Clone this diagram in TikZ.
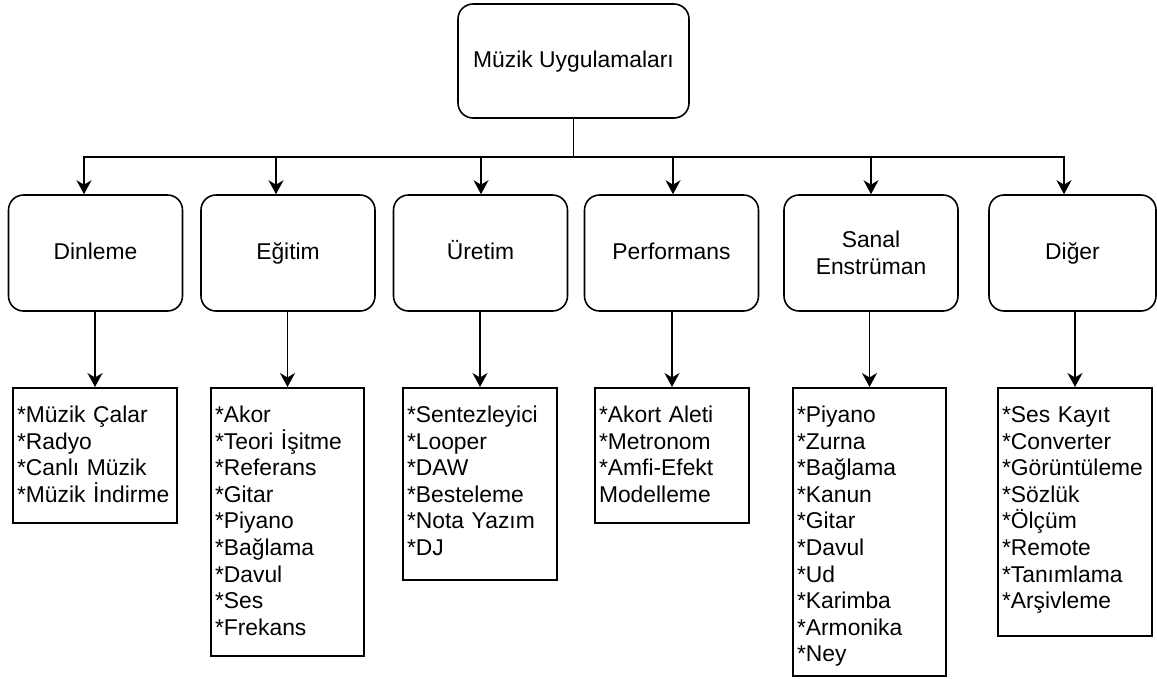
\documentclass[tikz,border=0pt]{standalone}
\usepackage{fontspec}
\setmainfont{Liberation Sans}
\usetikzlibrary{arrows.meta}

\begin{document}
\begin{tikzpicture}[
    font=\fontsize{13}{15.1}\selectfont,
    line width=0.9pt,
    >={Stealth[length=0.28cm,width=0.3cm,inset=0.09cm]},
    cat/.style={draw, rounded corners=0.3cm, minimum width=3.48cm,
      minimum height=2.32cm, align=center, inner sep=0pt},
    oneline/.style={text height=0.9em, text depth=0.18em},
    leaf/.style={draw, anchor=north, align=left, inner xsep=0.08cm,
      inner ysep=0pt, text height=0.7cm, text width=2.92cm}
  ]
  \useasboundingbox (0,0) rectangle (23.14,-13.56);

  \node[cat, oneline, minimum width=4.62cm, minimum height=2.28cm] (app) at (11.47,-1.22) {Müzik Uygulamaları};

  % categories
  \node[cat, oneline] (din) at (1.91,-5.06) {Dinleme};
  \node[cat, oneline] (egt) at (5.76,-5.06) {Eğitim};
  \node[cat, oneline] (urt) at (9.61,-5.06) {Üretim};
  \node[cat, oneline] (prf) at (13.43,-5.06) {Performans};
  \node[cat] (snl) at (17.42,-5.06) {Sanal\\Enstrüman};
  \node[cat, oneline, minimum width=3.34cm] (dgr) at (21.45,-5.06) {Diğer};

  % lists under each category ({} keeps the * from being read as \\*)
  \node[leaf, text width=3.12cm, text depth=2cm] (ldin) at (1.90,-7.74)
    {*Müzik Çalar\\{}*Radyo\\{}*Canlı Müzik\\{}*Müzik İndirme};
  \node[leaf, text width=2.90cm, text depth=4.66cm] (legt) at (5.75,-7.74)
    {*Akor\\{}*Teori İşitme\\{}*Referans\\{}*Gitar\\{}*Piyano\\{}*Bağlama\\{}*Davul\\{}*Ses\\{}*Frekans};
  \node[leaf, text depth=3.14cm] (lurt) at (9.60,-7.74)
    {*Sentezleyici\\{}*Looper\\{}*DAW\\{}*Besteleme\\{}*Nota Yazım\\{}*DJ};
  \node[leaf, text depth=2cm] (lprf) at (13.44,-7.74)
    {*Akort Aleti\\{}*Metronom\\{}*Amfi-Efekt\\Modelleme};
  \node[leaf, text width=2.90cm, text depth=5.06cm] (lsnl) at (17.39,-7.74)
    {*Piyano\\{}*Zurna\\{}*Bağlama\\{}*Kanun\\{}*Gitar\\{}*Davul\\{}*Ud\\{}*Karimba\\{}*Armonika\\{}*Ney};
  \node[leaf, text depth=4.26cm] (ldgr) at (21.50,-7.74)
    {*Ses Kayıt\\{}*Converter\\{}*Görüntüleme\\{}*Sözlük\\{}*Ölçüm\\{}*Remote\\{}*Tanımlama\\{}*Arşivleme};

  % bus from the top box
  \coordinate (bus) at (11.47,-3.14);
  \coordinate (b1) at (1.68,-3.14);
  \coordinate (b2) at (5.52,-3.14);
  \coordinate (b3) at (9.62,-3.14);
  \coordinate (b4) at (13.46,-3.14);
  \coordinate (b5) at (17.42,-3.14);
  \coordinate (b6) at (21.28,-3.14);
  \draw (app.south) -- (bus);
  \draw[<->] (b1 |- din.north) -- (b1) -- (b6) -- (b6 |- dgr.north);
  \foreach \b/\c in {b2/egt, b3/urt, b4/prf, b5/snl}
    \draw[->] (\b) -- (\b |- \c.north);

  \foreach \c in {din, egt, urt, prf, snl, dgr}
    \draw[->] (l\c.north |- \c.south) -- (l\c.north);
\end{tikzpicture}
\end{document}
